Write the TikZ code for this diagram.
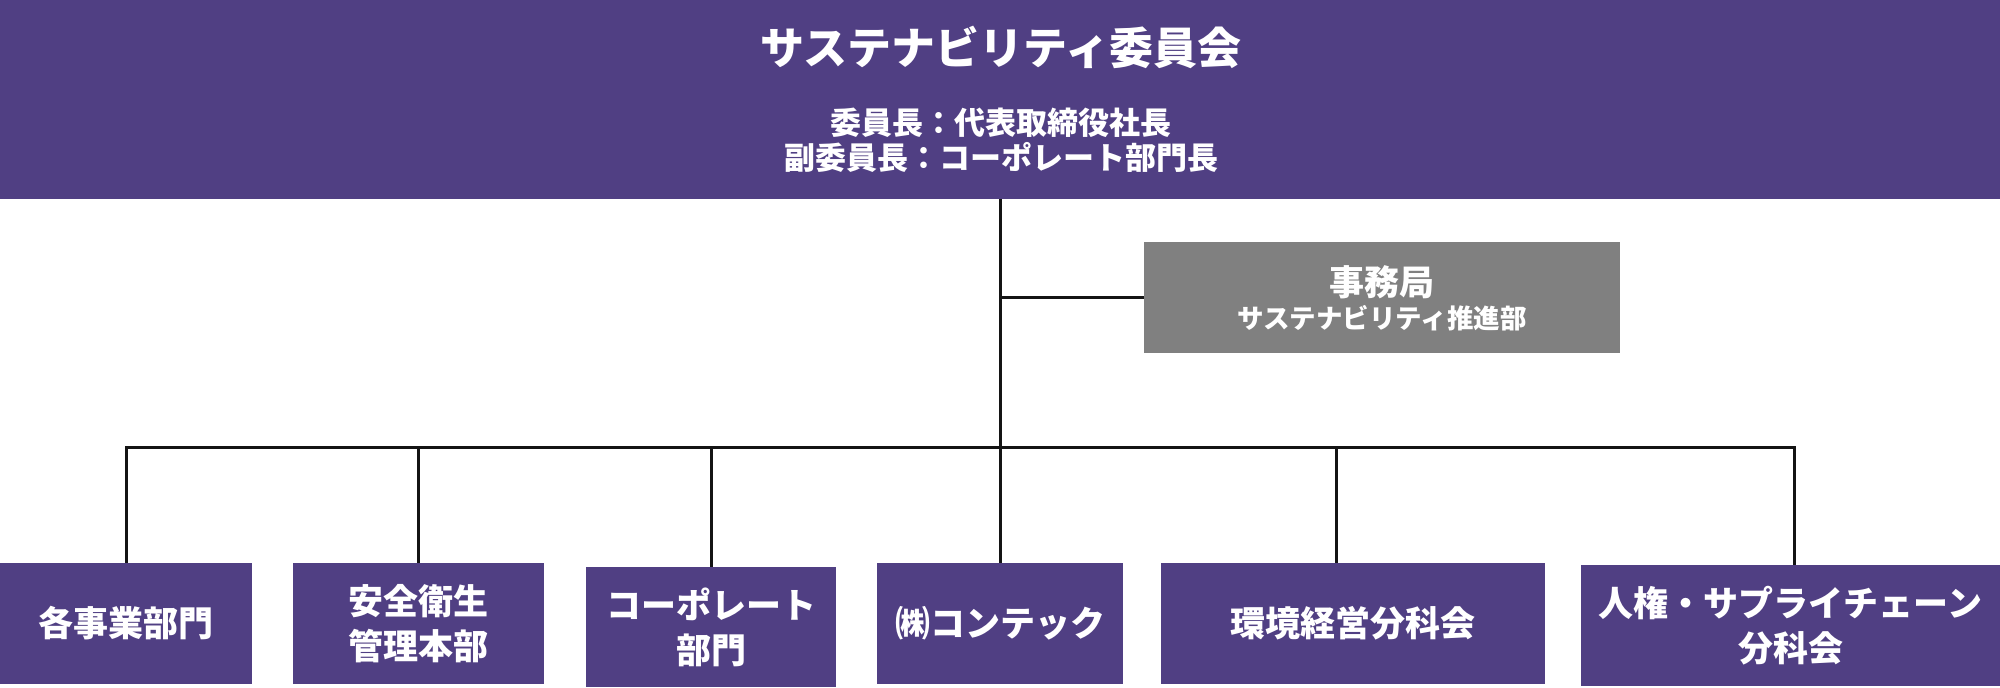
\documentclass[tikz,border=0pt]{standalone}
\usepackage{fontspec}
\setmainfont{Noto Sans CJK JP}
\definecolor{purp}{RGB}{80,63,131}
\definecolor{greybox}{RGB}{128,128,128}
\definecolor{linec}{RGB}{20,20,20}
\begin{document}
\begin{tikzpicture}[x=1pt,y=-1pt,
  box/.style={fill=purp,draw=none,inner sep=0pt,text=white,align=center,font=\bfseries\fontsize{35}{45}\selectfont},
  conn/.style={draw=linec,line width=3pt,line join=miter},
  wtext/.style={text=white,inner sep=0pt,align=center}]
\useasboundingbox (0,0) rectangle (2000,688);
% top banner
\node[fill=purp,inner sep=0pt,minimum width=2000pt,minimum height=199pt] (top) at (1000,99.5) {};
\node[wtext,font=\bfseries\fontsize{44}{50}\selectfont] (title) at (1001,47) {サステナビリティ委員会};
\node[wtext,font=\bfseries\fontsize{31}{35}\selectfont] (members) at (1001,140) {委員長：代表取締役社長\\副委員長：コーポレート部門長};
% secretariat
\node[fill=greybox,inner sep=0pt,minimum width=476pt,minimum height=111pt] (sec) at (1382,297.5) {};
\node[wtext,font=\bfseries\fontsize{35}{38}\selectfont] (sect) at (1382,282) {事務局};
\node[wtext,font=\bfseries\fontsize{26.5}{30}\selectfont] (secs) at (1382,318) {サステナビリティ推進部};
% bottom boxes
\node[box,minimum width=252pt,minimum height=121pt] (b1) at (126,623.5) {各事業部門};
\node[box,minimum width=251pt,minimum height=121pt] (b2) at (418.5,623.5) {安全衛生\\管理本部};
\node[box,minimum width=250pt,minimum height=120pt] (b3) at (711,627) {コーポレート\\部門};
\node[box,minimum width=246pt,minimum height=121pt] (b4) at (1000,623.5) {㈱コンテック};
\node[box,minimum width=384pt,minimum height=121pt] (b5) at (1353,623.5) {環境経営分科会};
\node[box,minimum width=419pt,minimum height=121pt] (b6) at (1790.5,625.5) {人権・サプライチェーン\\分科会};
% connectors
\coordinate (hub) at (1000,447);
\coordinate (busL) at (126,447);
\coordinate (busR) at (1794,447);
\coordinate (d5) at (1336,563);
\coordinate (d6) at (1794,565);
\draw[conn] (top.south) -- (hub);
\draw[conn] (top.south |- sec.west) -- (sec.west);
\draw[conn] (b1.north) -- (busL) -- (busR) -- (d6);
\draw[conn] (b2.north |- busL) -- (b2.north);
\draw[conn] (b3.north |- busL) -- (b3.north);
\draw[conn] (hub) -- (b4.north);
\draw[conn] (d5 |- busL) -- (d5);
\end{tikzpicture}
\end{document}
